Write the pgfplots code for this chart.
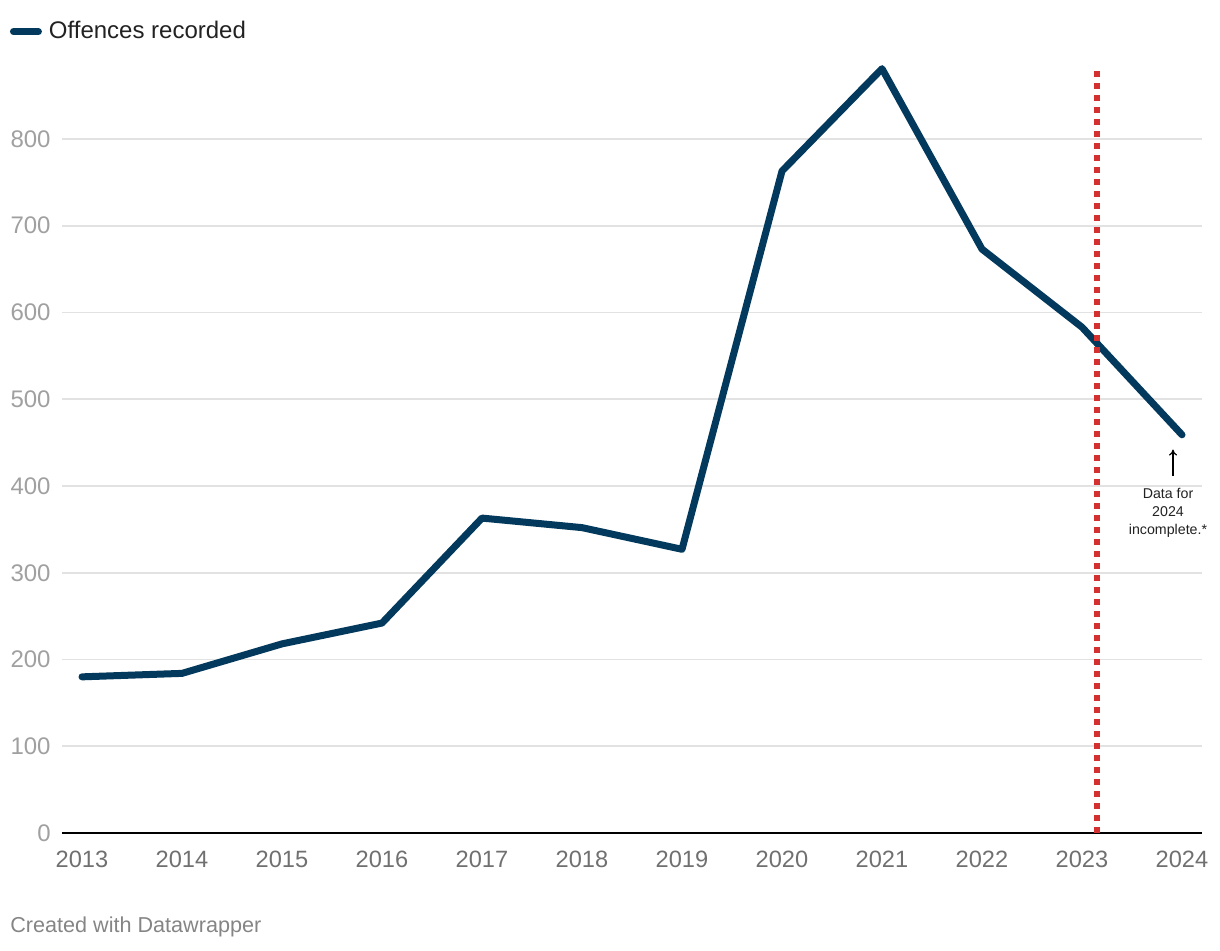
\documentclass[border=0pt]{standalone}
\usepackage{pgfplots}
\pgfplotsset{compat=1.18}
\usetikzlibrary{arrows.meta}
\usepackage{fontspec}
\setmainfont{Liberation Sans}
\definecolor{navy}{RGB}{3,57,92}
\definecolor{redl}{RGB}{212,48,48}
\definecolor{ylab}{RGB}{160,160,160}
\definecolor{xlab}{RGB}{112,112,112}
\definecolor{gridc}{RGB}{226,226,226}
\definecolor{darktext}{RGB}{34,34,34}
\begin{document}
\begin{tikzpicture}
\useasboundingbox (0,0) rectangle (610pt,475pt);
\begin{axis}[
  at={(31pt,58.5pt)}, anchor=south west,
  scale only axis, width=570pt, height=390.4pt,
  xmin=2012.8, xmax=2024.2, ymin=0, ymax=900,
  axis x line*=bottom, axis y line*=left,
  x axis line style={black, line width=1pt, -},
  y axis line style={draw=none},
  xtick={2013,...,2024}, ytick={0,100,...,800},
  xticklabel style={/pgf/number format/1000 sep={}, text=xlab, font=\fontsize{11.8}{12}\selectfont},
  yticklabel style={text=ylab, font=\fontsize{12}{12}\selectfont, inner sep=0pt},
  yticklabel shift=5.5pt,
  major tick length=0pt,
  ymajorgrids, grid style={gridc, line width=0.8pt},
  xticklabel shift=5.5pt,
  /pgf/number format/assume math mode=true,
  clip=false,
  legend style={at={(-0.046,1.045)}, anchor=north west, draw=none, fill=none, font=\fontsize{12}{12}\selectfont, text=darktext, inner sep=0pt},
  legend image code/.code={\draw[line width=3.5pt, line cap=round, navy] (0.5pt,0pt) -- (13pt,0pt); \path (14.5pt,0pt);},
]
\addplot[navy, line width=3.5pt, line join=round, line cap=round] coordinates {
(2013,180) (2014,184) (2015,218) (2016,242) (2017,363) (2018,352) (2019,327) (2020,763) (2021,881) (2022,673) (2023,583) (2024,459)};
\addlegendentry{Offences recorded}
\addplot[redl, line width=3pt, dash pattern=on 3pt off 3pt, forget plot] coordinates {(2023.15,0) (2023.15,881)};
\addplot[black, line width=0.6pt, -{To[length=3pt,width=4pt]}, forget plot] coordinates {(2023.91,412) (2023.91,442)};
\node[align=center, font=\fontsize{7.1}{9}\selectfont, anchor=north, text=darktext] at (axis cs:2023.86,405) {Data for\\2024\\incomplete.*};
\end{axis}
\node[anchor=west, text=xlab!85, font=\fontsize{10.8}{12}\selectfont, inner sep=0pt] at (5pt,11.5pt) {Created with Datawrapper};
\end{tikzpicture}
\end{document}
